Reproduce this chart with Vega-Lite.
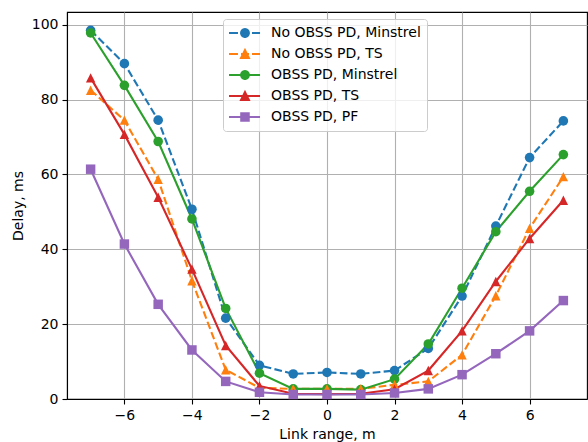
{
  "$schema": "https://vega.github.io/schema/vega-lite/v6.json",
  "width": 520,
  "height": 387,
  "autosize": {"type": "none"},
  "padding": {"left": 67, "top": 12, "right": 1, "bottom": 43},
  "config": {
    "font": "DejaVu Sans",
    "view": {"stroke": "black", "strokeWidth": 1.1},
    "axis": {
      "grid": true,
      "gridColor": "#b0b0b0",
      "gridWidth": 1.1,
      "domainColor": "black",
      "domainWidth": 1.1,
      "tickColor": "black",
      "tickWidth": 1.1,
      "tickSize": 5,
      "labelPadding": 4,
      "labelFontSize": 14,
      "labelColor": "black",
      "titleFontSize": 14,
      "titleFontWeight": "normal",
      "titleColor": "black"
    },
    "legend": {
      "labelFontSize": 14,
      "labelColor": "black",
      "labelFont": "DejaVu Sans"
    }
  },
  "data": {
    "values": [
      {"series": "No OBSS PD, Minstrel", "range": -7, "delay": 98.5},
      {"series": "No OBSS PD, Minstrel", "range": -6, "delay": 89.6},
      {"series": "No OBSS PD, Minstrel", "range": -5, "delay": 74.5},
      {"series": "No OBSS PD, Minstrel", "range": -4, "delay": 50.7},
      {"series": "No OBSS PD, Minstrel", "range": -3, "delay": 21.6},
      {"series": "No OBSS PD, Minstrel", "range": -2, "delay": 9.0},
      {"series": "No OBSS PD, Minstrel", "range": -1, "delay": 6.7},
      {"series": "No OBSS PD, Minstrel", "range": 0, "delay": 7.1},
      {"series": "No OBSS PD, Minstrel", "range": 1, "delay": 6.7},
      {"series": "No OBSS PD, Minstrel", "range": 2, "delay": 7.6},
      {"series": "No OBSS PD, Minstrel", "range": 3, "delay": 13.5},
      {"series": "No OBSS PD, Minstrel", "range": 4, "delay": 27.5},
      {"series": "No OBSS PD, Minstrel", "range": 5, "delay": 46.2},
      {"series": "No OBSS PD, Minstrel", "range": 6, "delay": 64.5},
      {"series": "No OBSS PD, Minstrel", "range": 7, "delay": 74.3},
      {"series": "No OBSS PD, TS", "range": -7, "delay": 82.5},
      {"series": "No OBSS PD, TS", "range": -6, "delay": 74.5},
      {"series": "No OBSS PD, TS", "range": -5, "delay": 58.7},
      {"series": "No OBSS PD, TS", "range": -4, "delay": 31.6},
      {"series": "No OBSS PD, TS", "range": -3, "delay": 7.8},
      {"series": "No OBSS PD, TS", "range": -2, "delay": 3.0},
      {"series": "No OBSS PD, TS", "range": -1, "delay": 2.7},
      {"series": "No OBSS PD, TS", "range": 0, "delay": 2.7},
      {"series": "No OBSS PD, TS", "range": 1, "delay": 2.7},
      {"series": "No OBSS PD, TS", "range": 2, "delay": 3.8},
      {"series": "No OBSS PD, TS", "range": 3, "delay": 4.7},
      {"series": "No OBSS PD, TS", "range": 4, "delay": 11.8},
      {"series": "No OBSS PD, TS", "range": 5, "delay": 27.6},
      {"series": "No OBSS PD, TS", "range": 6, "delay": 45.6},
      {"series": "No OBSS PD, TS", "range": 7, "delay": 59.4},
      {"series": "OBSS PD, Minstrel", "range": -7, "delay": 97.8},
      {"series": "OBSS PD, Minstrel", "range": -6, "delay": 83.8},
      {"series": "OBSS PD, Minstrel", "range": -5, "delay": 68.8},
      {"series": "OBSS PD, Minstrel", "range": -4, "delay": 48.1},
      {"series": "OBSS PD, Minstrel", "range": -3, "delay": 24.2},
      {"series": "OBSS PD, Minstrel", "range": -2, "delay": 6.9},
      {"series": "OBSS PD, Minstrel", "range": -1, "delay": 2.7},
      {"series": "OBSS PD, Minstrel", "range": 0, "delay": 2.7},
      {"series": "OBSS PD, Minstrel", "range": 1, "delay": 2.5},
      {"series": "OBSS PD, Minstrel", "range": 2, "delay": 5.3},
      {"series": "OBSS PD, Minstrel", "range": 3, "delay": 14.7},
      {"series": "OBSS PD, Minstrel", "range": 4, "delay": 29.6},
      {"series": "OBSS PD, Minstrel", "range": 5, "delay": 44.7},
      {"series": "OBSS PD, Minstrel", "range": 6, "delay": 55.5},
      {"series": "OBSS PD, Minstrel", "range": 7, "delay": 65.3},
      {"series": "OBSS PD, TS", "range": -7, "delay": 85.8},
      {"series": "OBSS PD, TS", "range": -6, "delay": 70.7},
      {"series": "OBSS PD, TS", "range": -5, "delay": 53.9},
      {"series": "OBSS PD, TS", "range": -4, "delay": 34.7},
      {"series": "OBSS PD, TS", "range": -3, "delay": 14.3},
      {"series": "OBSS PD, TS", "range": -2, "delay": 3.5},
      {"series": "OBSS PD, TS", "range": -1, "delay": 1.4},
      {"series": "OBSS PD, TS", "range": 0, "delay": 1.3},
      {"series": "OBSS PD, TS", "range": 1, "delay": 1.4},
      {"series": "OBSS PD, TS", "range": 2, "delay": 2.6},
      {"series": "OBSS PD, TS", "range": 3, "delay": 7.6},
      {"series": "OBSS PD, TS", "range": 4, "delay": 18.2},
      {"series": "OBSS PD, TS", "range": 5, "delay": 31.4},
      {"series": "OBSS PD, TS", "range": 6, "delay": 42.9},
      {"series": "OBSS PD, TS", "range": 7, "delay": 53.1},
      {"series": "OBSS PD, PF", "range": -7, "delay": 61.4},
      {"series": "OBSS PD, PF", "range": -6, "delay": 41.4},
      {"series": "OBSS PD, PF", "range": -5, "delay": 25.3},
      {"series": "OBSS PD, PF", "range": -4, "delay": 13.1},
      {"series": "OBSS PD, PF", "range": -3, "delay": 4.7},
      {"series": "OBSS PD, PF", "range": -2, "delay": 1.8},
      {"series": "OBSS PD, PF", "range": -1, "delay": 1.2},
      {"series": "OBSS PD, PF", "range": 0, "delay": 1.2},
      {"series": "OBSS PD, PF", "range": 1, "delay": 1.2},
      {"series": "OBSS PD, PF", "range": 2, "delay": 1.6},
      {"series": "OBSS PD, PF", "range": 3, "delay": 2.7},
      {"series": "OBSS PD, PF", "range": 4, "delay": 6.5},
      {"series": "OBSS PD, PF", "range": 5, "delay": 12.1},
      {"series": "OBSS PD, PF", "range": 6, "delay": 18.2},
      {"series": "OBSS PD, PF", "range": 7, "delay": 26.3}
    ]
  },
  "encoding": {
    "x": {
      "field": "range",
      "type": "quantitative",
      "scale": {"domain": [-7.7, 7.7], "nice": false, "zero": false},
      "axis": {"title": "Link range, m", "values": [-6, -4, -2, 0, 2, 4, 6], "titlePadding": 5.5}
    },
    "y": {
      "field": "delay",
      "type": "quantitative",
      "scale": {"domain": [0, 103.4], "nice": false},
      "axis": {"title": "Delay, ms", "values": [0, 20, 40, 60, 80, 100], "titlePadding": 6}
    },
    "color": {
      "field": "series",
      "type": "nominal",
      "sort": null,
      "scale": {
        "domain": ["No OBSS PD, Minstrel", "No OBSS PD, TS", "OBSS PD, Minstrel", "OBSS PD, TS", "OBSS PD, PF"],
        "range": ["#1f77b4", "#ff7f0e", "#2ca02c", "#d62728", "#9467bd"]
      },
      "legend": {
        "title": null,
        "orient": "none",
        "legendX": 156,
        "legendY": 7,
        "padding": 6,
        "rowPadding": 5,
        "labelOffset": 26,
        "symbolSize": 196,
        "symbolStrokeWidth": 2,
        "fillColor": "rgba(255,255,255,0.8)",
        "strokeColor": "#cccccc",
        "cornerRadius": 3,
        "encode": {
          "symbols": {
            "update": {
              "shape": {"signal": "datum.value === 'No OBSS PD, Minstrel' ? 'M-1.14,0H0.14M0.57,0H1.71M2.14,0H3.29M0.58,0A0.56,0.56 0 1,0 1.7,0A0.56,0.56 0 1,0 0.58,0Z' : datum.value === 'No OBSS PD, TS' ? 'M-1.14,0H0.14M0.57,0H1.71M2.14,0H3.29M1.14,-0.56L1.7,0.56L0.58,0.56Z' : datum.value === 'OBSS PD, Minstrel' ? 'M-1.14,0H3.29M0.58,0A0.56,0.56 0 1,0 1.7,0A0.56,0.56 0 1,0 0.58,0Z' : datum.value === 'OBSS PD, TS' ? 'M-1.14,0H3.29M1.14,-0.56L1.7,0.56L0.58,0.56Z' : 'M-1.14,0H3.29M0.6,-0.54H1.68V0.54H0.6Z'"},
              "fill": {"signal": "scale('color', datum.value)"},
              "stroke": {"signal": "scale('color', datum.value)"},
              "opacity": {"value": 1},
              "strokeDash": {"value": [1, 0]}
            }
          }
        }
      }
    }
  },
  "layer": [
    {
      "transform": [{"filter": "indexof(datum.series, 'No OBSS') === 0"}],
      "mark": {"type": "line", "strokeWidth": 2.1, "strokeDash": [7.7, 3.3]}
    },
    {
      "transform": [{"filter": "indexof(datum.series, 'No OBSS') !== 0"}],
      "mark": {"type": "line", "strokeWidth": 2.1}
    },
    {
      "transform": [{"filter": "indexof(datum.series, 'Minstrel') > 0"}],
      "mark": {"type": "point", "shape": "circle", "filled": true, "opacity": 1, "size": 92}
    },
    {
      "transform": [{"filter": "indexof(datum.series, ', TS') > 0"}],
      "mark": {"type": "point", "shape": "M0,-1L1,1L-1,1Z", "filled": true, "opacity": 1, "size": 88}
    },
    {
      "transform": [{"filter": "indexof(datum.series, ', PF') > 0"}],
      "mark": {"type": "point", "shape": "square", "filled": true, "opacity": 1, "size": 90}
    }
  ]
}
